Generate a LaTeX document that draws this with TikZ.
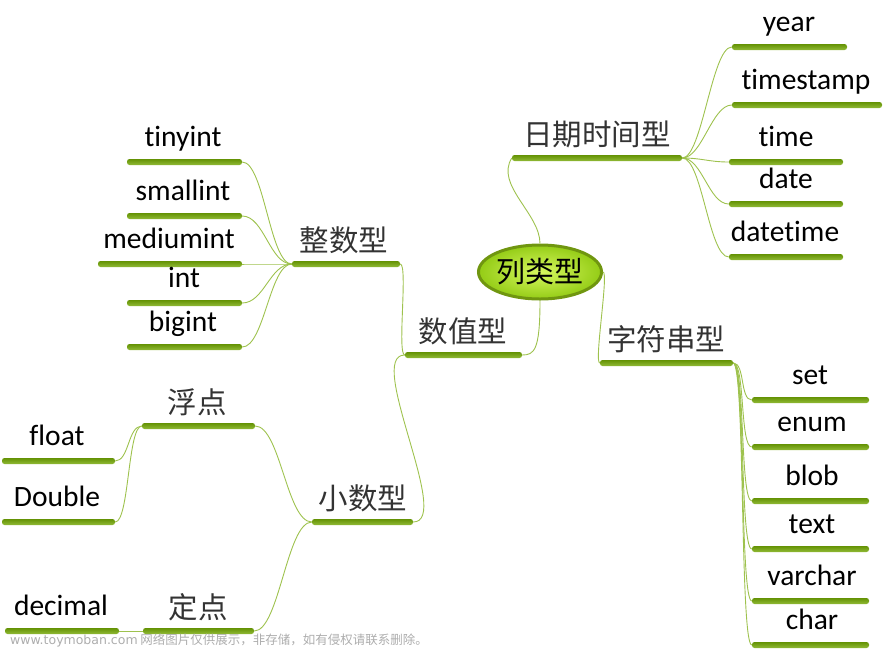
\documentclass[tikz,border=0pt]{standalone}
\usepackage{fontspec}
\setmainfont[Ligatures=NoCommon]{Carlito}
\newfontfamily\cjk{Noto Sans CJK SC}
\newfontfamily\wmfont{DejaVu Sans}
\usetikzlibrary{shapes.geometric}
\definecolor{bargreen}{RGB}{100,146,4}
\definecolor{barlight}{RGB}{145,186,55}
\definecolor{linkgreen}{RGB}{158,194,78}
\definecolor{rootrim}{RGB}{112,150,16}
\definecolor{rootin}{RGB}{215,248,95}
\definecolor{rootout}{RGB}{148,204,22}

\begin{document}
\begin{tikzpicture}[x=1pt,y=-1pt,
    bar/.style={rectangle, inner sep=0pt, minimum height=6pt, rounded corners=2.5pt, top color=bargreen, bottom color=barlight},
    link/.style={draw=linkgreen, line width=0.9pt},
    en/.style={anchor=base, inner sep=0pt, font=\fontsize{29.5}{32}\selectfont},
    zh/.style={anchor=base, inner sep=0pt, text=black!80, font=\cjk\fontsize{29.5}{32}\selectfont},
    root/.style={ellipse, minimum width=108pt, minimum height=54pt, inner sep=0pt, draw=rootrim, line width=3pt, inner color=rootin, outer color=rootout, font=\cjk\fontsize{29}{32}\selectfont},
    wm/.style={anchor=west, inner sep=0pt, text=black!32, font=\fontsize{12.5}{14}\selectfont}]
        \useasboundingbox (0,0) rectangle (884,649);
        \node[root] (root) at (540,272) {列类型};
        \node[bar, minimum width=170pt] (riqi) at (597,158) {};
        \node[zh] (riqil) at (597,145) {日期时间型};
        \node[bar, minimum width=115pt] (year) at (789.5,47) {};
        \node[en] (yearl) at (789,31) {year};
        \node[bar, minimum width=150pt] (tstamp) at (807,105) {};
        \node[en] (tstampl) at (806,89) {timestamp};
        \node[bar, minimum width=114pt] (time) at (786,162) {};
        \node[en] (timel) at (786,146) {time};
        \node[bar, minimum width=114pt] (date) at (786,204) {};
        \node[en] (datel) at (786,188) {date};
        \node[bar, minimum width=114pt] (dtime) at (786,257) {};
        \node[en] (dtimel) at (785,241) {datetime};
        \node[bar, minimum width=133pt] (zifu) at (666.5,363) {};
        \node[zh] (ziful) at (666,350) {字符串型};
        \node[bar, minimum width=117pt] (set) at (810.5,400) {};
        \node[en] (setl) at (810,384) {set};
        \node[bar, minimum width=117pt] (enum) at (810.5,447) {};
        \node[en] (enuml) at (812,431) {enum};
        \node[bar, minimum width=117pt] (blob) at (810.5,501) {};
        \node[en] (blobl) at (812,485) {blob};
        \node[bar, minimum width=117pt] (text) at (810.5,549) {};
        \node[en] (textl) at (812,533) {text};
        \node[bar, minimum width=117pt] (varchar) at (810.5,601) {};
        \node[en] (varcharl) at (812,585) {varchar};
        \node[bar, minimum width=117pt] (char) at (810.5,645) {};
        \node[en] (charl) at (812,629) {char};
        \node[bar, minimum width=117pt] (shuzhi) at (463.5,355) {};
        \node[zh] (shuzhil) at (463,342) {数值型};
        \node[bar, minimum width=108pt] (zhengshu) at (346,264) {};
        \node[zh] (zhengshul) at (344,251) {整数型};
        \node[bar, minimum width=115pt] (tiny) at (184.5,162) {};
        \node[en] (tinyl) at (183,146) {tinyint};
        \node[bar, minimum width=115pt] (small) at (184.5,216) {};
        \node[en] (smalll) at (183,200) {smallint};
        \node[bar, minimum width=144pt] (medium) at (170,264) {};
        \node[en] (mediuml) at (169,248) {mediumint};
        \node[bar, minimum width=115pt] (int) at (184.5,303) {};
        \node[en] (intl) at (184,287) {int};
        \node[bar, minimum width=115pt] (big) at (184.5,347) {};
        \node[en] (bigl) at (183,331) {bigint};
        \node[bar, minimum width=101pt] (xiaoshu) at (362.5,522) {};
        \node[zh] (xiaoshul) at (363,509) {小数型};
        \node[bar, minimum width=113pt] (fudian) at (198.5,426) {};
        \node[zh] (fudianl) at (197,413) {浮点};
        \node[bar, minimum width=113pt] (float) at (58.5,461) {};
        \node[en] (floatl) at (57,445) {float};
        \node[bar, minimum width=113pt] (double) at (58.5,522) {};
        \node[en] (doublel) at (57,506) {Double};
        \node[bar, minimum width=111pt] (dingdian) at (198.5,631) {};
        \node[zh] (dingdianl) at (198,618) {定点};
        \node[bar, minimum width=114pt] (decimal) at (62,631) {};
        \node[en] (decimall) at (61,615) {decimal};
        \draw[link] (root.north) .. controls +(0,-30) and +(-17,27) .. (riqi.west);
        \draw[link] (root.south) .. controls +(0,50) and +(12,0) .. (shuzhi.east);
        \draw[link] (root.east) .. controls +(6,0) and +(-6,0) .. (zifu.west);
        \draw[link] (riqi.east) .. controls +(20,0) and +(-20,0) .. (year.west);
        \draw[link] (riqi.east) .. controls +(20,0) and +(-20,0) .. (tstamp.west);
        \draw[link] (riqi.east) .. controls +(20,0) and +(-20,0) .. (time.west);
        \draw[link] (riqi.east) .. controls +(20,0) and +(-20,0) .. (date.west);
        \draw[link] (riqi.east) .. controls +(20,0) and +(-20,0) .. (dtime.west);
        \draw[link] (zifu.east) .. controls +(12,0) and +(-12,0) .. (set.west);
        \draw[link] (zifu.east) .. controls +(12,0) and +(-12,0) .. (enum.west);
        \draw[link] (zifu.east) .. controls +(12,0) and +(-12,0) .. (blob.west);
        \draw[link] (zifu.east) .. controls +(12,0) and +(-12,0) .. (text.west);
        \draw[link] (zifu.east) .. controls +(12,0) and +(-12,0) .. (varchar.west);
        \draw[link] (zifu.east) .. controls +(12,0) and +(-12,0) .. (char.west);
        \draw[link] (zhengshu.east) .. controls +(8,0) and +(-8,0) .. (shuzhi.west);
        \draw[link] (zhengshu.west) .. controls +(-22,0) and +(22,0) .. (tiny.east);
        \draw[link] (zhengshu.west) .. controls +(-22,0) and +(22,0) .. (small.east);
        \draw[link] (zhengshu.west) .. controls +(-22,0) and +(22,0) .. (medium.east);
        \draw[link] (zhengshu.west) .. controls +(-22,0) and +(22,0) .. (int.east);
        \draw[link] (zhengshu.west) .. controls +(-22,0) and +(22,0) .. (big.east);
        \draw[link] (shuzhi.west) .. controls +(-40,0) and +(40,0) .. (xiaoshu.east);
        \draw[link] (xiaoshu.west) .. controls +(-25,0) and +(25,0) .. (fudian.east);
        \draw[link] (xiaoshu.west) .. controls +(-25,0) and +(25,0) .. (dingdian.east);
        \draw[link] (fudian.west) .. controls +(-14,0) and +(14,0) .. (float.east);
        \draw[link] (fudian.west) .. controls +(-14,0) and +(14,0) .. (double.east);
        \draw[link] (dingdian.west) -- (decimal.east);
        \node[wm] (mark) at (10,640) {{\wmfont www.toymoban.com} {\cjk 网络图片仅供展示，非存储，如有侵权请联系删除。}};
    \end{tikzpicture}
\end{document}
